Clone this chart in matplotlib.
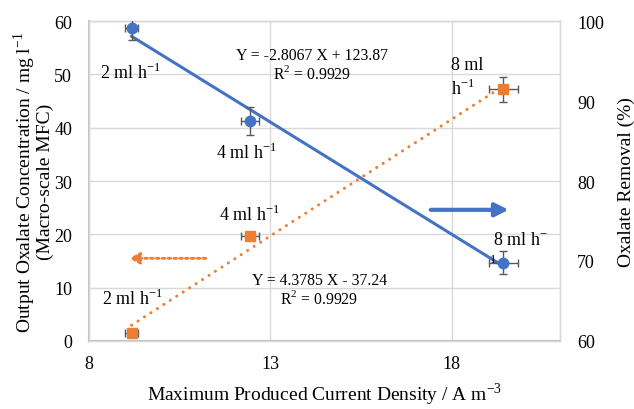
import numpy as np
import matplotlib.pyplot as plt

# current density (A m-3) for the three flow rates
current = [9.18, 12.45, 19.43]
current_err = [0.17, 0.25, 0.4]

# output oxalate concentration (mg l-1), left axis
conc = [1.5, 19.6, 47.2]
conc_err = [0.4, 0.6, 2.3]

# oxalate removal (%), right axis
removal = [99.1, 87.5, 69.8]
removal_err = [1.4, 1.75, 1.4]

flow_labels = ['2 ml h$^{-1}$', '4 ml h$^{-1}$', '8 ml h$^{-1}$']

# trendline coefficients as shown on the chart
conc_fit = (4.3785, -37.24)
removal_fit = (-2.8067, 123.87)

blue = '#4472C4'
orange = '#ED7D31'
grid_c = '#D9D9D9'
err_c = '#595959'

plt.rcParams['font.family'] = ['Liberation Serif', 'DejaVu Serif']
plt.rcParams['mathtext.fontset'] = 'custom'
plt.rcParams['mathtext.rm'] = 'Liberation Serif'

fig, ax = plt.subplots(figsize=(6.34, 4.10), dpi=100)
fig.subplots_adjust(left=0.140, right=0.884, top=0.946, bottom=0.166)
ax2 = ax.twinx()

# orange: concentration on left axis
xs = np.array([min(current), max(current)])
ax.plot(xs, conc_fit[0] * xs + conc_fit[1], color=orange, lw=2.2,
        linestyle=(0, (0.01, 2.5)), dash_capstyle='round', zorder=2)
ax.errorbar(current, conc, xerr=current_err, yerr=conc_err, fmt='s', color=orange,
            ms=7.5, ecolor=err_c, elinewidth=1, capsize=3, capthick=1, zorder=3)

# blue: removal on right axis
ax2.plot(xs, removal_fit[0] * xs + removal_fit[1], color=blue, lw=2.2, zorder=2)
ax2.errorbar(current, removal, xerr=current_err, yerr=removal_err, fmt='o', color=blue,
             ms=7.5, ecolor=err_c, elinewidth=1, capsize=3, capthick=1, zorder=3)

ax.set_xlim(8, 21)
ax.set_ylim(0, 60)
ax2.set_ylim(60, 100)
ax.set_xticks([8, 13, 18])
ax.set_yticks(range(0, 61, 10))
ax2.set_yticks(range(60, 101, 10))
ax.grid(True, color=grid_c, lw=1)
ax.set_axisbelow(True)

for a in (ax, ax2):
    a.tick_params(length=0, labelsize=13)
    for s in a.spines.values():
        s.set_color(grid_c)
        s.set_linewidth(1)
ax.spines['left'].set_color('#BFBFBF')
ax.spines['bottom'].set_color('#BFBFBF')
ax.spines['left'].set_linewidth(1.5)
ax.spines['bottom'].set_linewidth(1.5)
ax.tick_params(axis='y', pad=12)
ax.tick_params(axis='x', pad=10)
ax2.tick_params(axis='y', pad=12)

ax.set_xlabel('Maximum Produced Current Density / A m$^{-3}$', fontsize=14, labelpad=6)
ax.set_ylabel('Output Oxalate Concentration / mg l$^{-1}$\n(Macro-scale MFC)',
              fontsize=14, labelpad=0, linespacing=0.9)
ax2.set_ylabel('Oxalate Removal (%)', fontsize=14, labelpad=10)

# point labels (orange, left axis coords)
ax.text(9.21, 8.1, flow_labels[0], fontsize=13, ha='center', va='center')
ax.text(12.42, 23.8, flow_labels[1], fontsize=13, ha='center', va='center')
ax.text(17.99, 49.5, '8 ml\nh$^{-1}$', fontsize=13, ha='left', va='center', linespacing=1.35)

# point labels (blue)
ax.text(9.15, 50.5, flow_labels[0], fontsize=13, ha='center', va='center')
ax.text(12.35, 35.4, flow_labels[1], fontsize=13, ha='center', va='center')
ax.text(19.15, 19.0, '8 ml h$^{-}$', fontsize=13, ha='left', va='center')
ax2.text(19.05, 70.2, '1', fontsize=9, ha='left', va='center', zorder=5)

# equations
ax.text(14.15, 51.9, 'Y = -2.8067 X + 123.87\nR$^2$ = 0.9929', fontsize=11.3,
        ha='center', va='center', linespacing=1.1, multialignment='center')
ax.text(14.36, 9.6, 'Y = 4.3785 X - 37.24\nR$^2$ = 0.9929', fontsize=11.3,
        ha='center', va='center', linespacing=1.1, multialignment='center')

# axis-indicator arrows
ax.annotate('', xy=(19.65, 24.6), xytext=(17.35, 24.6),
            arrowprops=dict(arrowstyle='-|>,head_length=0.8,head_width=0.4', color=blue, lw=3))
ax.annotate('', xy=(9.05, 15.5), xytext=(11.3, 15.5),
            arrowprops=dict(arrowstyle='-|>,head_length=0.6,head_width=0.35', color=orange,
                            lw=2.0, linestyle=(0, (1, 1.1))))

fig.savefig('out.png', dpi=100)
